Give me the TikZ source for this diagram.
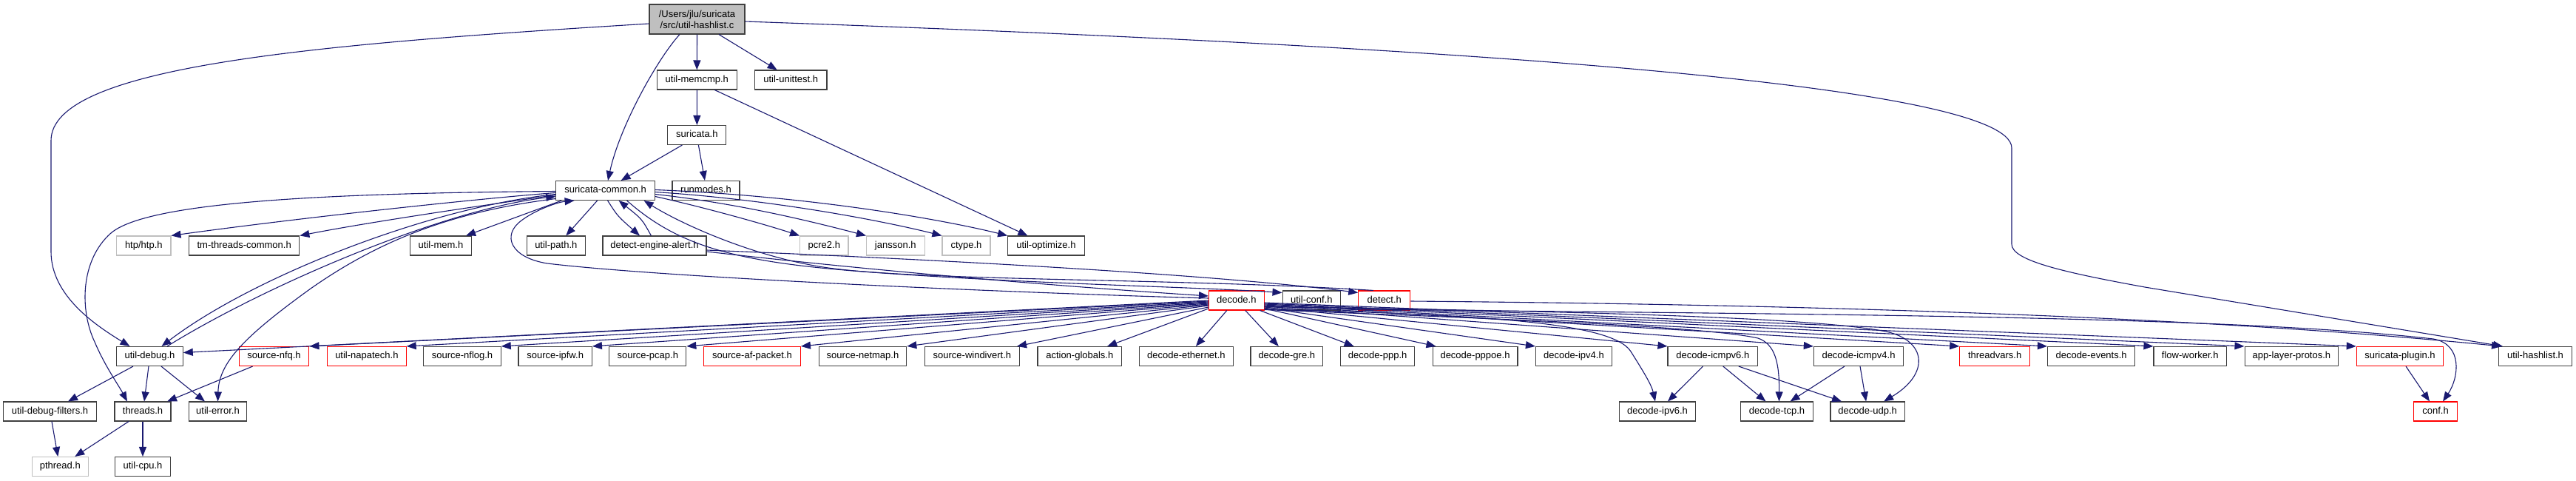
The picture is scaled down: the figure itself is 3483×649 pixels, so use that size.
\documentclass[tikz,border=0pt]{standalone}
\usepackage{fontspec}
\setmainfont{Liberation Sans}
\usetikzlibrary{arrows.meta,calc}
\definecolor{edgec}{HTML}{191970}
\definecolor{bordc}{HTML}{404040}
\definecolor{grayc}{HTML}{BFBFBF}
\definecolor{redc}{HTML}{FF0000}
\newcommand\dgfont{\fontsize{13}{15}\selectfont}
\begin{document}
\begin{tikzpicture}[x=1pt,y=-1pt,
  box/.style={draw=bordc, line width=1.1pt, inner sep=0pt, minimum height=26pt, text height=9.5pt, text depth=2.7pt, font=\dgfont},
  graybox/.style={box, draw=grayc},
  redbox/.style={box, draw=redc},
  topbox/.style={draw=bordc, fill=grayc, line width=1.1pt, inner sep=0pt, minimum width=129pt, minimum height=40pt, font=\dgfont, align=center},
  edge/.style={draw=edgec, line width=1.1pt, -{Triangle[length=13pt,width=10pt]}}]
\useasboundingbox (0,0) rectangle (3483,649);
% row 0
\node[topbox] (h) at (942.5,26) {/Users/jlu/suricata\\/src/util-hashlist.c};
% row 1
\node[box, minimum width=108pt] (memcmp) at (942.3,108) {util-memcmp.h};
\node[box, minimum width=97.6pt] (unittest) at (1069.2,108) {util-unittest.h};
% row 2
\node[box, minimum width=79pt] (suricata) at (942.4,182.5) {suricata.h};
% row 3
\node[box, minimum width=133.6pt] (sc) at (818.6,257.5) {suricata-common.h};
\node[box, minimum width=91pt] (runmodes) at (954.5,257.5) {runmodes.h};
% row 4
\node[graybox, minimum width=73.3pt] (htp) at (194.3,332) {htp/htp.h};
\node[box, minimum width=149.2pt] (tmtc) at (330.2,332) {tm-threads-common.h};
\node[box, minimum width=83pt] (umem) at (596,332) {util-mem.h};
\node[box, minimum width=78.8pt] (upath) at (751.8,332) {util-path.h};
\node[box, minimum width=140pt] (dea) at (885,332) {detect-engine-alert.h};
\node[graybox, minimum width=65.4pt] (pcre) at (1114.3,332) {pcre2.h};
\node[graybox, minimum width=78.5pt] (jansson) at (1210.8,332) {jansson.h};
\node[graybox, minimum width=65pt] (ctype) at (1306.5,332) {ctype.h};
\node[box, minimum width=103.3pt] (uopt) at (1414.4,332) {util-optimize.h};
% row 5
\node[redbox, minimum width=74.6pt] (decode) at (1671.8,406) {decode.h};
\node[box, minimum width=78.7pt] (uconf) at (1773.4,406) {util-conf.h};
\node[redbox, minimum width=70pt] (detect) at (1871.8,406) {detect.h};
% row 6
\node[box, minimum width=89.5pt] (udbg) at (202.5,481.5) {util-debug.h};
\node[redbox, minimum width=94.6pt] (nfq) at (370.6,481.5) {source-nfq.h};
\node[redbox, minimum width=106.4pt] (napatech) at (495.9,481.5) {util-napatech.h};
\node[box, minimum width=104.4pt] (nflog) at (625,481.5) {source-nflog.h};
\node[box, minimum width=99.4pt] (ipfw) at (750.7,481.5) {source-ipfw.h};
\node[box, minimum width=104pt] (pcap) at (875.8,481.5) {source-pcap.h};
\node[redbox, minimum width=130.8pt] (afpacket) at (1017,481.5) {source-af-packet.h};
\node[box, minimum width=118.5pt] (netmap) at (1166.5,481.5) {source-netmap.h};
\node[box, minimum width=128.2pt] (windivert) at (1314.4,481.5) {source-windivert.h};
\node[box, minimum width=113.6pt] (actglob) at (1459.8,481.5) {action-globals.h};
\node[box, minimum width=127pt] (deth) at (1603.9,481.5) {decode-ethernet.h};
\node[box, minimum width=97.6pt] (dgre) at (1739.8,481.5) {decode-gre.h};
\node[box, minimum width=99.9pt] (dppp) at (1862.6,481.5) {decode-ppp.h};
\node[box, minimum width=114.9pt] (dpppoe) at (1994.5,481.5) {decode-pppoe.h};
\node[box, minimum width=102.9pt] (dipv4) at (2127.9,481.5) {decode-ipv4.h};
\node[box, minimum width=121.6pt] (dicmp6) at (2315.8,481.5) {decode-icmpv6.h};
\node[box, minimum width=121.3pt] (dicmp4) at (2513,481.5) {decode-icmpv4.h};
\node[redbox, minimum width=94.6pt] (tvars) at (2697.1,481.5) {threadvars.h};
\node[box, minimum width=118.2pt] (devents) at (2827.6,481.5) {decode-events.h};
\node[box, minimum width=98.5pt] (fworker) at (2961.2,481.5) {flow-worker.h};
\node[box, minimum width=126.7pt] (alprotos) at (3098.4,481.5) {app-layer-protos.h};
\node[redbox, minimum width=117.5pt] (splugin) at (3245,481.5) {suricata-plugin.h};
\node[box, minimum width=98.9pt] (uhashlist) at (3428,481.5) {util-hashlist.h};
% row 7
\node[box, minimum width=125.9pt] (udbgf) at (67.5,556) {util-debug-filters.h};
\node[box, minimum width=76pt] (threads) at (193,556) {threads.h};
\node[box, minimum width=78.5pt] (uerror) at (294.5,556) {util-error.h};
\node[box, minimum width=103pt] (dipv6) at (2241,556) {decode-ipv6.h};
\node[box, minimum width=97.5pt] (dtcp) at (2402.5,556) {decode-tcp.h};
\node[box, minimum width=100.2pt] (dudp) at (2525.1,556) {decode-udp.h};
\node[redbox, minimum width=59.5pt] (conf) at (3293,556) {conf.h};
% row 8
\node[graybox, minimum width=76.2pt] (pthread) at (81.3,630.5) {pthread.h};
\node[box, minimum width=74.7pt] (ucpu) at (193,630.5) {util-cpu.h};

% ---- edges from util-hashlist.c
\draw[edge] (h.south) -- (memcmp.north);
\draw[edge] ($(h.south)+(29.5,0)$) -- ($(unittest.north)+(-18.5,0)$);
\draw[edge] ($(h.south)+(-23.5,0)$) .. controls (890,78) and (838,170) .. ($(sc.north)+(3.4,0)$);
\draw[edge] ($(h.west)+(0,6)$) .. controls (420,60) and (69,90) .. (69,190) -- (69,340) .. controls (69,400) and (130,440) .. ($(udbg.north)+(-27,0)$);
\draw[edge] ($(h.east)+(0,3)$) .. controls (1900,60) and (2720,110) .. (2720,200) -- (2720,330) .. controls (2720,352) and (2790,368) .. (2900,388) -- ($(uhashlist.north west)+(6,0)$);
% ---- util-memcmp.h, suricata.h
\draw[edge] (memcmp.south) -- (suricata.north);
\draw[edge] ($(memcmp.south)+(24,0)$) -- ($(uopt.north)+(-25,0)$);
\draw[edge] ($(suricata.south)+(-20,0)$) -- ($(sc.north)+(21,0)$);
\draw[edge] ($(suricata.south)+(2,0)$) -- ($(runmodes.north)+(-1.5,0)$);
% ---- suricata-common.h
\draw[edge] ($(sc.west)+(0,3)$) .. controls (650,268) and (400,295) .. (htp.north east);
\draw[edge] ($(sc.west)+(0,6)$) .. controls (650,278) and (500,300) .. (tmtc.north east);
\draw[edge] ($(sc.west)+(0,1)$) .. controls (450,261) and (200,272) .. (150,315) .. controls (108,352) and (108,420) .. (128,462) .. controls (142,495) and (160,520) .. ($(threads.north)+(-21,0)$);
\draw[edge] ($(sc.west)+(0,5)$) .. controls (580,280) and (340,375) .. ($(udbg.north)+(16,0)$);
\draw[edge] ($(udbg.north)+(23.5,0)$) .. controls (360,385) and (600,283) .. ($(sc.west)+(0,8)$);
\draw[edge] ($(sc.west)+(0,11)$) .. controls (620,285) and (520,320) .. (420,390) .. controls (330,455) and (296,490) .. (uerror.north);
\draw[edge] ($(sc.south west)+(8,0)$) -- ($(umem.north)+(34,0)$);
\draw[edge] ($(sc.south)+(-11,0)$) -- ($(upath.north)+(13.5,0)$);
\draw[edge] ($(sc.south)+(3,0)$) .. controls (835,292) .. ($(dea.north)+(-20,0)$);
\draw[edge] ($(dea.north)+(-4.6,0)$) .. controls (868,296) .. ($(sc.south)+(18,0)$);
\draw[edge] ($(sc.east)+(0,8)$) .. controls (960,282) and (1040,305) .. (pcre.north west);
\draw[edge] ($(sc.east)+(0,5)$) .. controls (1000,275) and (1100,300) .. (jansson.north west);
\draw[edge] ($(sc.east)+(0,2)$) .. controls (1050,270) and (1200,300) .. (ctype.north west);
\draw[edge] ($(sc.east)+(0,-1)$) .. controls (1100,265) and (1280,298) .. (uopt.north west);
\draw[edge] ($(sc.south)+(29,0)$) .. controls (920,335) and (1000,355) .. (1180,368) .. controls (1400,384) and (1600,387) .. ($(uconf.north west)+(0,3)$);
% ---- back edges and detect-engine-alert.h
\draw[edge] ($(decode.west)+(0,-3)$) .. controls (1350,395) and (900,375) .. (740,356) .. controls (690,348) and (678,318) .. (705,298) .. controls (725,283) and (755,273) .. ($(sc.south)+(-42,0)$);
\draw[edge] ($(dea.east)+(0,8)$) .. controls (1200,368) and (1450,388) .. ($(decode.west)+(0,-6)$);
\draw[edge] ($(dea.east)+(0,6)$) .. controls (1300,352) and (1650,372) .. ($(detect.north west)+(0,3)$);
\draw[edge] ($(detect.north)+(-15,0)$) .. controls (1600,376) and (1250,380) .. (1120,362) .. controls (1020,348) and (920,302) .. ($(sc.south)+(52,0)$);
% ---- decode.h
\draw[edge] (decode.west) -- ($(udbg.east)+(0,-5)$);
\draw[edge] ($(decode.west)+(0,1)$) -- (nfq.north east);
\draw[edge] ($(decode.west)+(0,2)$) -- (napatech.north east);
\draw[edge] ($(decode.west)+(0,3)$) -- (nflog.north east);
\draw[edge] ($(decode.west)+(0,4)$) -- (ipfw.north east);
\draw[edge] ($(decode.west)+(0,5)$) -- (pcap.north east);
\draw[edge] ($(decode.west)+(0,6)$) -- (afpacket.north east);
\draw[edge] ($(decode.west)+(0,7)$) -- (netmap.north east);
\draw[edge] ($(decode.west)+(0,9)$) -- ($(windivert.north east)+(-4,0)$);
\draw[edge] ($(decode.west)+(0,11)$) -- ($(actglob.north east)+(-20,0)$);
\draw[edge] ($(decode.south)+(-13,0)$) -- ($(deth.north)+(13,0)$);
\draw[edge] ($(decode.south)+(12,0)$) -- ($(dgre.north)+(-11,0)$);
\draw[edge] ($(decode.south east)+(-6,0)$) -- ($(dppp.north)+(-32,0)$);
\draw[edge] ($(decode.east)+(0,11)$) -- ($(dpppoe.north west)+(5,0)$);
\draw[edge] ($(decode.east)+(0,10)$) -- (dipv4.north west);
\draw[edge] ($(decode.east)+(0,9)$) -- (dicmp6.north west);
\draw[edge] ($(decode.east)+(0,8)$) -- (dicmp4.north west);
\draw[edge] ($(decode.east)+(0,7)$) -- (tvars.north west);
\draw[edge] ($(decode.east)+(0,6)$) -- (devents.north west);
\draw[edge] ($(decode.east)+(0,5)$) -- (fworker.north west);
\draw[edge] ($(decode.east)+(0,4)$) -- (alprotos.north west);
\draw[edge] ($(decode.east)+(0,3)$) -- (splugin.north west);
\draw[edge] ($(decode.east)+(0,12)$) .. controls (2000,425) and (2180,435) .. (2205,475) .. controls (2222,502) and (2233,520) .. ($(dipv6.north)+(-3,0)$);
\draw[edge] ($(decode.east)+(0,12.5)$) .. controls (2000,430) and (2300,440) .. (2377,457) .. controls (2400,465) and (2406,490) .. ($(dtcp.north)+(3,0)$);
\draw[edge] ($(decode.east)+(0,8.5)$) .. controls (2100,420) and (2450,428) .. (2550,448) .. controls (2605,460) and (2610,505) .. ($(dudp.north)+(22,0)$);
% ---- lower right
\draw[edge] ($(dicmp6.south)+(-13.3,0)$) -- ($(dipv6.north)+(14,0)$);
\draw[edge] ($(dicmp6.south)+(14,0)$) -- ($(dtcp.north)+(-15,0)$);
\draw[edge] ($(dicmp6.south)+(35,0)$) -- ($(dudp.north)+(-35,0)$);
\draw[edge] ($(dicmp4.south)+(-19,0)$) -- ($(dtcp.north)+(18,0)$);
\draw[edge] ($(dicmp4.south)+(2,0)$) -- ($(dudp.north)+(-2,0)$);
\draw[edge] ($(splugin.south)+(8,0)$) -- ($(conf.north)+(-8,0)$);
\draw[edge] ($(uconf.south east)+(0,-2)$) .. controls (2400,425) and (3000,425) .. (3290,458) .. controls (3330,465) and (3325,510) .. ($(conf.north)+(10,0)$);
\draw[edge] ($(detect.east)+(0,1)$) .. controls (2500,412) and (3000,430) .. ($(uhashlist.north west)+(4,0)$);
% ---- lower left
\draw[edge] ($(udbg.south)+(-22.5,0)$) -- ($(udbgf.north)+(24.5,0)$);
\draw[edge] ($(udbg.south)+(-1.5,0)$) -- ($(threads.north)+(2,0)$);
\draw[edge] ($(udbg.south)+(15.5,0)$) -- ($(uerror.north)+(-17.5,0)$);
\draw[edge] ($(nfq.south)+(-29,0)$) -- ($(threads.north)+(33,0)$);
\draw[edge] ($(udbgf.south)+(2.5,0)$) -- ($(pthread.north)+(-3,0)$);
\draw[edge] ($(threads.south)+(-19,0)$) -- ($(pthread.north)+(20,0)$);
\draw[edge] (threads.south) -- (ucpu.north);
\end{tikzpicture}
\end{document}
